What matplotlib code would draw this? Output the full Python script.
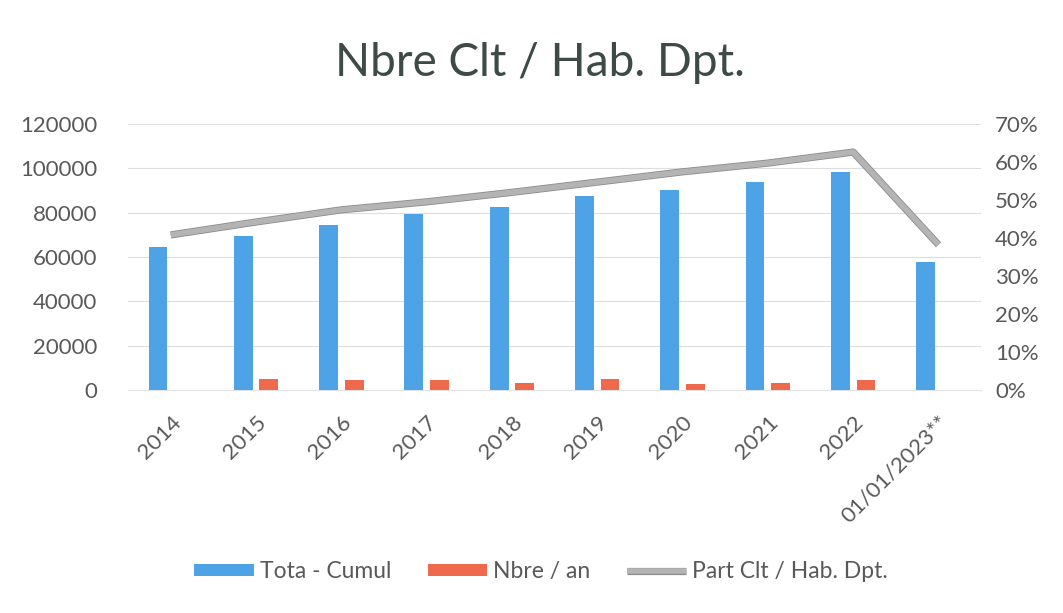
import numpy as np
import matplotlib
matplotlib.use("Agg")
from matplotlib import pyplot as plt
from matplotlib import patheffects as pe
from matplotlib.ticker import FuncFormatter

plt.rcParams['font.family'] = ['Lato', 'DejaVu Sans']

# Data
categories = ['2014', '2015', '2016', '2017', '2018', '2019', '2020', '2021',
              '2022', '01/01/2023**']
total_cumul = [64700, 69500, 74400, 79400, 82700, 87500, 90200, 93700,
               98200, 57900]
nbre_an = [0, 4900, 4500, 4500, 3200, 5100, 2600, 3300, 4500, 0]
part_clt = [0.408, 0.442, 0.474, 0.495, 0.520, 0.547, 0.574, 0.597,
            0.626, 0.382]

blue = '#4da3e6'
red = '#ef6a4c'
grey_txt = '#595959'

fig = plt.figure(figsize=(10.63, 6.13), dpi=100)
ax = fig.add_axes([0.1205, 0.3638, 0.8025, 0.4340])
ax2 = ax.twinx()

x = np.arange(len(categories))
w = 0.22
ax.bar(x - 0.15, total_cumul, w, color=blue, label='Tota - Cumul', zorder=3)
ax.bar(x + 0.15, nbre_an, w, color=red, label='Nbre / an', zorder=3)

line, = ax2.plot(x, part_clt, color='#b4b4b4', linewidth=4,
                 solid_capstyle='butt', label='Part Clt / Hab. Dpt.',
                 path_effects=[pe.Stroke(linewidth=5.2, foreground='#8c8c8c'),
                               pe.Normal()])

ax.set_xlim(-0.5, 9.5)
ax.set_ylim(0, 120000)
ax.set_yticks(np.arange(0, 120001, 20000))
ax2.set_ylim(0, 0.7)
ax2.set_yticks(np.arange(0, 0.71, 0.1))
ax2.yaxis.set_major_formatter(FuncFormatter(lambda v, p: '%d%%' % round(v * 100)))

ax.grid(axis='y', color='#dedede', linewidth=0.8, zorder=0)
ax.set_axisbelow(True)
for a in (ax, ax2):
    for s in a.spines.values():
        s.set_visible(False)
    a.tick_params(length=0, labelsize=16, colors=grey_txt)
ax.tick_params(axis='y', pad=22)
ax2.tick_params(axis='y', pad=10)
ax.spines['bottom'].set_visible(True)
ax.spines['bottom'].set_color('#e2e2e2')

ax.set_xticks(x)
ax.set_xticklabels(categories, rotation=45, ha='right', rotation_mode='anchor')
ax.tick_params(axis='x', pad=16)

fig.suptitle('Nbre Clt / Hab. Dpt.', x=0.508, y=0.932, fontsize=33,
             color='#3d4a45')

handles = ax.get_legend_handles_labels()[0] + [line]
labels = ['Tota - Cumul', 'Nbre / an', 'Part Clt / Hab. Dpt.']
fig.legend(handles, labels, loc='center', bbox_to_anchor=(0.509, 0.067),
           ncol=3, frameon=False, fontsize=16.5, handlelength=2.6,
           handleheight=0.45, handletextpad=0.25, columnspacing=1.6,
           labelcolor=grey_txt)

fig.savefig('out.png', dpi=100)
